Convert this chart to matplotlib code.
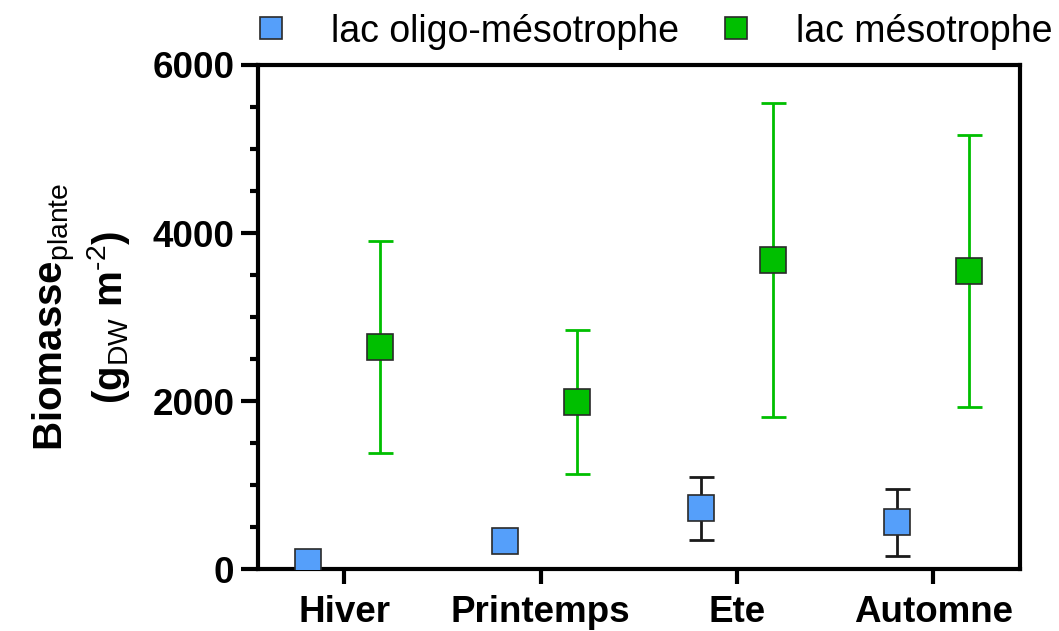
import matplotlib
matplotlib.use("Agg")
import matplotlib.pyplot as plt
import numpy as np
from matplotlib.lines import Line2D
from matplotlib.ticker import MultipleLocator

plt.rcParams['font.family'] = ['Liberation Sans', 'DejaVu Sans']
plt.rcParams['mathtext.fontset'] = 'custom'
plt.rcParams['mathtext.rm'] = 'Liberation Sans'
plt.rcParams['mathtext.bf'] = 'Liberation Sans:bold'

categories = ["Hiver", "Printemps", "Ete", "Automne"]
series_names = ["lac oligo-mésotrophe", "lac mésotrophe"]
oligo_mean = [85, 335, 723, 555]
oligo_err = [0, 0, 373, 397]
meso_mean = [2643, 1988, 3679, 3548]
meso_err = [1260, 857, 1868, 1615]
yticks = [0, 2000, 4000, 6000]

blue = '#559FFA'
green = '#00BF00'
edge = '#2a2a2a'

fig = plt.figure(figsize=(10.59, 6.31), dpi=100)
ax = fig.add_axes([0.2436, 0.0982, 0.7194, 0.7988])

x = np.arange(len(categories))
off = 0.183
ms = 18.5

has_err = [e > 0 for e in oligo_err]
ax.errorbar(x[has_err] - off, np.array(oligo_mean)[has_err], yerr=np.array(oligo_err)[has_err],
            fmt='none', ecolor='#1a1a1a', elinewidth=2.0, capsize=9, capthick=2.0, zorder=2)
ax.plot(x - off, oligo_mean, 's', ms=ms, mfc=blue, mec=edge, mew=1.2, zorder=3)

ax.errorbar(x + off, meso_mean, yerr=meso_err, fmt='none', ecolor=green,
            elinewidth=2.0, capsize=9, capthick=2.0, zorder=2)
ax.plot(x + off, meso_mean, 's', ms=ms, mfc=green, mec=edge, mew=1.2, zorder=3)

ax.set_xlim(-0.44, 3.44)
ax.set_ylim(0, 6000)
ax.set_xticks(x)
ax.set_xticklabels(categories, fontsize=26.5, fontweight='bold')
ax.set_yticks(yticks)
ax.set_yticklabels([str(v) for v in yticks], fontsize=26.5, fontweight='bold')
ax.yaxis.set_minor_locator(MultipleLocator(500))

for sp in ax.spines.values():
    sp.set_linewidth(3.0)
ax.tick_params(axis='y', which='major', length=12, width=3.0, pad=5)
ax.tick_params(axis='y', which='minor', length=6, width=3.0)
ax.tick_params(axis='x', which='major', length=11, width=3.0, pad=8)

ax.set_ylabel("Biomasse$_{\\mathrm{plante}}$\n(g$_{\\mathrm{DW}}$ m$^{\\text{-2}}$)",
              fontsize=29, fontweight='bold', labelpad=15, linespacing=1.18)

handles = [Line2D([], [], ls='none', marker='s', ms=16, mfc=blue, mec=edge, mew=1.2),
           Line2D([], [], ls='none', marker='s', ms=16, mfc=green, mec=edge, mew=1.2)]
fig.legend(handles, series_names, loc='center left', bbox_to_anchor=(0.235, 0.95),
           ncol=2, frameon=False, fontsize=27, handletextpad=1.0, columnspacing=0.9,
           handlelength=1.2, borderaxespad=0, borderpad=0)

fig.savefig("out.png", dpi=100)
